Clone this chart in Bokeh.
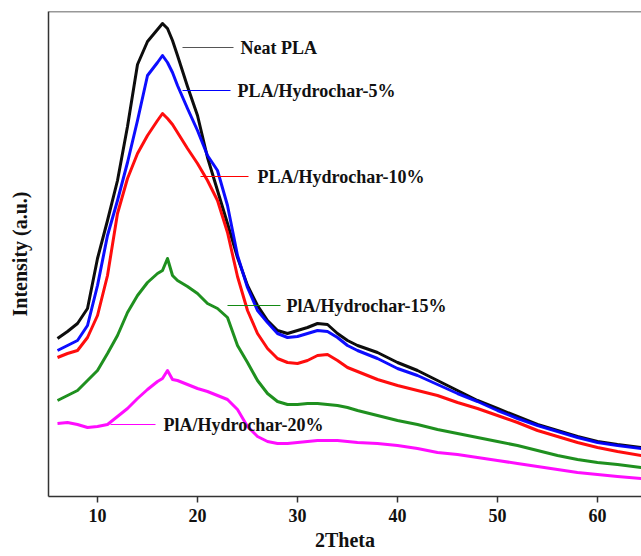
from bokeh.plotting import figure
from bokeh.models import Range1d, Span, FixedTicker, ColumnDataSource
from bokeh.core.properties import value
from bokeh.embed import file_html
from bokeh.resources import INLINE

# 2Theta grid (degrees)
two_theta = [6, 7, 8, 9, 10, 11, 12, 13, 14, 15, 16, 16.5, 17, 17.5, 18,
             19, 20, 21, 22, 23, 24, 25, 26, 27, 28, 29, 30, 31, 32, 33, 34, 35, 36,
             38, 40, 42, 44, 46, 48, 50, 52, 54, 56, 58, 60, 62, 64.4]

# Intensity (a.u.)
neat_pla = [158, 165, 173, 188, 238, 276, 316, 370, 432, 455, 467, 473, 468, 456, 441,
            410, 381, 339, 306, 273, 239, 211, 191, 176, 166, 163, 166, 169, 173, 172, 163, 156, 151,
            144, 134, 126, 116, 106, 96, 88, 80, 72, 66, 60, 55, 52, 49]
hc_5 = [146, 151, 156, 171, 211, 261, 296, 334, 376, 421, 434, 441, 434, 424, 411,
        388, 366, 341, 326, 291, 241, 209, 186, 174, 163, 159, 160, 163, 166, 165, 159, 151, 146,
        138, 128, 121, 112, 103, 95, 86, 78, 71, 65, 59, 54, 51, 48]
hc_10 = [139, 143, 146, 159, 181, 221, 283, 318, 343, 361, 376, 383, 378, 372, 364,
         348, 333, 316, 296, 264, 220, 186, 163, 148, 138, 134, 133, 136, 141, 142, 136, 129, 125,
         117, 111, 106, 101, 94, 88, 81, 74, 66, 60, 54, 49, 45, 41]
hc_15 = [96, 101, 106, 116, 126, 143, 161, 184, 201, 214, 223, 226, 238, 221, 216,
         210, 203, 193, 188, 179, 151, 134, 116, 103, 95, 92, 92, 93, 93, 92, 91, 89, 86,
         81, 76, 72, 67, 63, 59, 55, 51, 46, 41, 37, 34, 32, 29]
hc_20 = [73, 74, 72, 69, 70, 72, 80, 88, 98, 107, 115, 118, 126, 117, 116,
         112, 108, 105, 101, 97, 87, 70, 60, 55, 53, 53, 54, 55, 56, 56, 56, 55, 54,
         53, 51, 48, 44, 42, 39, 36, 33, 30, 27, 24, 22, 20, 18]

series_names = ["Neat PLA", "PLA/Hydrochar-5%", "PLA/Hydrochar-10%",
                "PlA/Hydrochar-15%", "PlA/Hydrochar-20%"]
series_values = [neat_pla, hc_5, hc_10, hc_15, hc_20]
series_colors = ["#000000", "#0000FF", "#FF0000", "#138A13", "#FF00FF"]
leader_colors = ["#555555", "#0000FF", "#FF0000", "#138A13", "#FF00FF"]

# label annotation anchors (data units)
label_x0 = [18.5, 18.5, 20.3, 23.0, 11.3]
label_x1 = [23.6, 23.3, 25.1, 28.3, 15.8]
label_y = [449, 406, 320, 191, 72]
label_tx = [24.3, 24.0, 26.0, 28.9, 16.6]

x_ticks = [10, 20, 30, 40, 50, 60]

SERIF = "Liberation Serif"

p = figure(width=641, height=556, output_backend="svg", toolbar_location=None,
           x_range=Range1d(5.1, 64.4), y_range=Range1d(0, 485),
           min_border_left=48, min_border_right=0, min_border_top=11, min_border_bottom=60)
p.outline_line_color = None
p.grid.visible = False
p.background_fill_color = "white"
p.border_fill_color = "white"

for vals, col in zip(series_values, series_colors):
    p.line(two_theta, vals, line_color=col, line_width=3.0, line_alpha=0.95,
           line_join="round")

src = ColumnDataSource(dict(x0=label_x0, x1=label_x1, y=label_y, tx=label_tx,
                            text=series_names, lc=leader_colors))
p.segment(x0="x0", y0="y", x1="x1", y1="y", line_color="lc", line_width=1.2, source=src)
p.text(x="tx", y="y", text="text", source=src, text_font=value(SERIF),
       text_font_size="18px", text_font_style="bold", text_color="#111111",
       text_baseline="middle", text_align="left")

# top border
p.add_layout(Span(location=485, dimension="width", line_color="#333333", line_width=1.5))

xa = p.xaxis[0]
xa.ticker = FixedTicker(ticks=x_ticks)
xa.axis_line_color = "#333333"
xa.axis_line_width = 1.5
xa.major_tick_line_color = "#333333"
xa.major_tick_line_width = 1.5
xa.major_tick_out = 6
xa.major_tick_in = 0
xa.minor_tick_line_color = None
xa.major_label_text_font = SERIF
xa.major_label_text_font_style = "bold"
xa.major_label_text_font_size = "18px"
xa.major_label_text_color = "#111111"
xa.major_label_standoff = 6
xa.axis_label = "2Theta"
xa.axis_label_text_font = SERIF
xa.axis_label_text_font_style = "bold"
xa.axis_label_text_font_size = "20px"
xa.axis_label_text_color = "#111111"
xa.axis_label_standoff = 4

ya = p.yaxis[0]
ya.ticker = FixedTicker(ticks=[])
ya.axis_line_color = "#333333"
ya.axis_line_width = 1.5
ya.major_tick_line_color = None
ya.minor_tick_line_color = None
ya.axis_label = "Intensity (a.u.)"
ya.axis_label_text_font = SERIF
ya.axis_label_text_font_style = "bold"
ya.axis_label_text_font_size = "20px"
ya.axis_label_text_color = "#111111"
ya.axis_label_standoff = 18

open("out.html", "w").write(file_html(p, INLINE))
